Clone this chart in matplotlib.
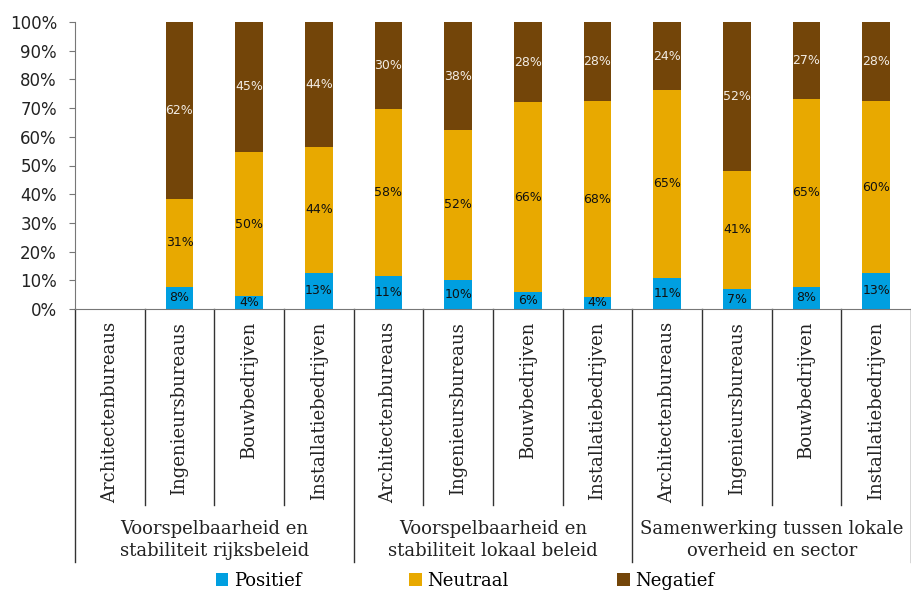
import numpy as np
import matplotlib
matplotlib.use("Agg")
import matplotlib.pyplot as plt
import matplotlib.transforms as mtransforms
from matplotlib.patches import Patch

# Data (share of respondents, %)
groups = ["Voorspelbaarheid en\nstabiliteit rijksbeleid",
          "Voorspelbaarheid en\nstabiliteit lokaal beleid",
          "Samenwerking tussen lokale\noverheid en sector"]
sectors = ["Architectenbureaus", "Ingenieursbureaus", "Bouwbedrijven", "Installatiebedrijven"]

positief = [0, 7.7, 4.4, 12.6, 11.4, 10.2, 5.9, 4.2, 10.9, 6.9, 7.8, 12.6]
neutraal = [0, 30.7, 50.4, 43.8, 58.4, 52.1, 66.2, 68.2, 65.4, 41.3, 65.3, 59.8]
negatief = [0, 61.6, 45.2, 43.6, 30.2, 37.7, 27.9, 27.6, 23.7, 51.8, 26.9, 27.6]

series_names = ["Positief", "Neutraal", "Negatief"]
colors = ["#009FE0", "#E8A900", "#734509"]
label_colors = ["#111111", "#111111", "#F2ECE4"]

serif = "DejaVu Serif"

fig = plt.figure(figsize=(9.11, 5.91), dpi=100)
W, H = 911, 591
ax = fig.add_axes([75 / W, (H - 309) / H, (911 - 75) / W, 287 / H])

n = len(positief)
x = np.arange(n)
bottom = np.zeros(n)
for vals, col, lcol in zip([positief, neutraal, negatief], colors, label_colors):
    vals = np.array(vals, dtype=float)
    ax.bar(x, vals, 0.4, bottom=bottom, color=col, edgecolor="none")
    for xi, v, b in zip(x, vals, bottom):
        if v > 0:
            ax.text(xi, b + v / 2, f"{round(v)}%", ha="center", va="center",
                    fontsize=9, color=lcol)
    bottom += vals

ax.set_xlim(-0.5, n - 0.5)
ax.set_ylim(0, 100)
ax.set_yticks(np.arange(0, 101, 10))
ax.set_yticklabels([f"{v}%" for v in range(0, 101, 10)], fontsize=12, color="#222222")
ax.tick_params(axis="y", length=4, color="#777777", pad=9)
ax.set_xticks([])
for s in ["top", "right"]:
    ax.spines[s].set_visible(False)
ax.spines["left"].set_color("#777777")
ax.spines["bottom"].set_color("#777777")

# multi-level category axis
trans = mtransforms.blended_transform_factory(ax.transData, ax.transAxes)
y_cat = -0.683
y_grp = -0.882
for i in range(n):
    ax.text(i, -0.045, sectors[i % 4], rotation=90, ha="center", va="top",
            fontsize=13, family=serif, color="#222222", transform=trans)
for i in range(n + 1):
    xb = i - 0.5
    y_end = y_grp if i % 4 == 0 else y_cat
    ax.plot([xb, xb], [0, y_end], color="#333333", lw=1, transform=trans, clip_on=False)
for g, name in enumerate(groups):
    ax.text(g * 4 + 1.5, -0.734, name, ha="center", va="top", fontsize=13,
            family=serif, color="#222222", linespacing=1.3, transform=trans)

handles = [Patch(facecolor=c, edgecolor="none") for c in colors]
fig.legend(handles, series_names, loc="center", bbox_to_anchor=(465 / W, 1 - 581 / H),
           ncol=3, frameon=False, prop={"family": serif, "size": 13},
           handlelength=0.7, handleheight=0.7, handletextpad=0.3, columnspacing=6.0,
           borderpad=0)

fig.savefig("out.png", dpi=100)
